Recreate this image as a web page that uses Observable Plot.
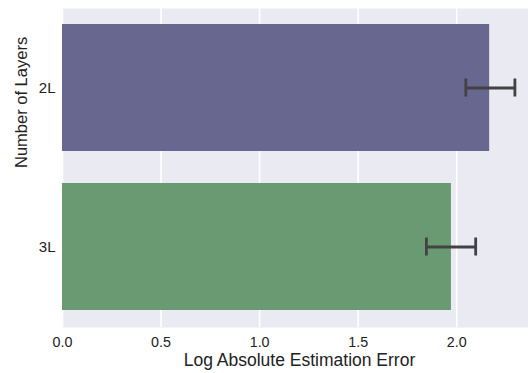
<!DOCTYPE html>
<html>
<head>
<meta charset="utf-8">
<script src="https://cdn.jsdelivr.net/npm/d3@7"></script>
<script src="https://cdn.jsdelivr.net/npm/@observablehq/plot@0.6"></script>
<style>
  html, body { margin: 0; padding: 0; background: #ffffff; }
  svg { display: block; }
</style>
</head>
<body>
<div id="chart"></div>
<script>
const layers = ["2L", "3L"];
const means = [2.167, 1.973];
const lows = [2.046, 1.846];
const highs = [2.295, 2.096];
const colors = ["#67678F", "#6A9A72"];
const xTicks = [0, 0.5, 1.0, 1.5, 2.0];

const data = layers.map((l, i) => ({layer: l, mean: means[i], lo: lows[i], hi: highs[i], color: colors[i]}));

const W = 528, H = 373;
const mL = 62, mR = 0, mT = 8, mB = 46;
const ink = "#222222";
const font = "'Liberation Sans', Arial, Helvetica, sans-serif";

const chart = Plot.plot({
  width: W,
  height: H,
  marginLeft: mL,
  marginRight: mR,
  marginTop: mT,
  marginBottom: mB,
  style: {fontFamily: font, fontSize: "14.3px", background: "#ffffff", color: ink},
  x: {domain: [0, 2.364], ticks: xTicks, tickFormat: d3.format(".1f")},
  y: {type: "band", domain: layers, paddingInner: 0.2, paddingOuter: 0.1, align: 0.5},
  color: {type: "identity"},
  marks: [
    Plot.frame({fill: "#EAEAF2", stroke: null}),
    Plot.gridX(xTicks, {stroke: "#ffffff", strokeOpacity: 1, strokeWidth: 1.6}),
    Plot.barX(data, {y: "layer", x1: 0, x2: "mean", fill: "color"}),
    Plot.ruleY(data, {y: "layer", x1: "lo", x2: "hi", stroke: "#424242", strokeWidth: 2.8}),
    Plot.tickX(data, {y: "layer", x: "lo", stroke: "#424242", strokeWidth: 2.8, insetTop: 54.5, insetBottom: 54.5}),
    Plot.tickX(data, {y: "layer", x: "hi", stroke: "#424242", strokeWidth: 2.8, insetTop: 54.5, insetBottom: 54.5}),
    Plot.axisX(xTicks, {tickSize: 0, tickPadding: 9, tickFormat: d3.format(".1f"), fontSize: 14.3, fill: ink, label: null}),
    Plot.axisY({tickSize: 0, tickPadding: 7, fontSize: 15, fill: ink, label: null}),
    Plot.text(["Log Absolute Estimation Error"], {frameAnchor: "bottom", dx: 4, dy: 33, lineAnchor: "middle", fontSize: 17.5, fill: ink}),
    Plot.text(["Number of Layers"], {frameAnchor: "left", dx: -40.5, rotate: -90, lineAnchor: "middle", fontSize: 16.5, fill: ink})
  ]
});

document.getElementById("chart").appendChild(chart);
</script>
</body>
</html>
